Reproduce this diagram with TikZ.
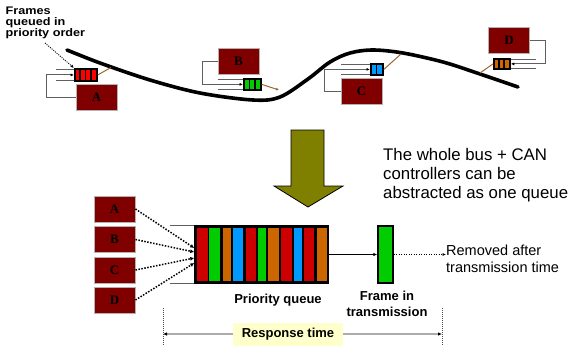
\documentclass[tikz,border=0pt]{standalone}
\usepackage{fontspec}
\setmainfont{Liberation Sans}
\newfontfamily\boxfont{Liberation Serif}
\newfontfamily\widesans{Liberation Sans}[FakeStretch=1.15]
\usetikzlibrary{arrows.meta,calc}

\definecolor{boxred}{HTML}{800000}
\definecolor{qred}{HTML}{CC0000}
\definecolor{brightred}{HTML}{FF0000}
\definecolor{qgreen}{HTML}{00CC00}
\definecolor{qorange}{HTML}{CC6600}
\definecolor{qblue}{HTML}{0099FF}
\definecolor{olive}{HTML}{808000}
\definecolor{tapbrown}{HTML}{996633}
\definecolor{lightyel}{HTML}{FFFFCC}

% fixed baseline spacing in multi-line labels
\lineskiplimit=-20pt

\tikzset{
  ctrl/.style={fill=boxred, draw=gray!60, line width=0.9pt, minimum width=41pt,
    minimum height=26pt, inner sep=0pt, font=\boxfont\bfseries\fontsize{13}{13}\selectfont},
  minq/.style={fill=black, draw=black, line width=0.8pt, inner sep=0pt, anchor=north west},
  rail/.style={draw=gray!75!black, line width=0.9pt},
  feed/.style={draw=gray!75!black, line width=0.9pt,
    -{Latex[length=3.5pt,width=3pt,color=black]}},
  tap/.style={draw=tapbrown, line width=1pt},
  bus/.style={line width=3.6pt, line cap=round},
  dotarrow/.style={line width=1.5pt, dash pattern=on 1.5pt off 1.5pt,
    -{Latex[length=4pt,width=4pt]}},
  thindot/.style={line width=0.9pt, dash pattern=on 1pt off 1.2pt,
    -{Latex[length=3.5pt,width=3pt]}},
  marker/.style={draw=gray!60!black, line width=0.8pt, dash pattern=on 1pt off 1pt},
  lbl/.style={inner sep=0pt, align=left},
}

% small hardware queue: name, x, y (top left), width, height, bars, colour
\newcommand{\miniq}[7]{%
  \node[minq, minimum width=#4pt, minimum height=#5pt] (#1) at (#2,#3) {};
  \pgfmathsetmacro\qbw{(#4-1.5*(#6+1))/#6}
  \foreach \i in {1,...,#6}{
    \fill[#7] ({#2+1.5+(\i-1)*(\qbw+1.5)},{#3+1.5}) rectangle ++(\qbw,#5-3);
  }
}

\begin{document}
\begin{tikzpicture}[x=1pt,y=-1pt]
\useasboundingbox (0,0) rectangle (569,346);

% ---------------- CAN bus with four controllers ----------------
\draw[bus] plot[smooth, tension=0.55] coordinates {
  (67,50) (100,63) (150,80) (200,93) (253,100) (280,97) (308,79) (330,62)
  (350,53) (373,50) (403,53) (443,62) (477,73) (518,87)};

\coordinate (busA) at (111,67.5);
\coordinate (busB) at (279,90);
\coordinate (busC) at (401,54);
\coordinate (busD) at (480,73);

% controller A
\node[ctrl] (A) at (96.5,97) {A};
\miniq{qA}{74}{68}{23}{13}{4}{brightred}
\draw[rail] ([yshift=-1.5pt]qA.north west) -- ++(-18,0);
\draw[rail] ([yshift=1.5pt]qA.south west) -- ++(-18,0);
\draw[feed] (A.west) -- ++(-29,0) |- (qA.west);
\draw[tap] (qA.east) -- (busA);

% controller B
\node[ctrl] (B) at (238.5,61) {B};
\miniq{qB}{243}{78}{18}{12}{3}{qgreen}
\draw[rail] ([yshift=-1.2pt]qB.north west) -- ++(-25,0);
\draw[rail] ([yshift=1.2pt]qB.south west) -- ++(-25,0);
\draw[feed] (B.west) -- ++(-15,0) |- (qB.west);
\draw[tap, -{Latex[length=3pt,width=3pt]}] (qB.east) -- (busB);

% controller C
\node[ctrl] (C) at (361.5,91.5) {C};
\miniq{qC}{370}{63}{13}{12}{2}{qblue}
\draw[rail] ([yshift=-1.2pt]qC.north west) -- ++(-29,0);
\draw[rail] ([yshift=1.2pt]qC.south west) -- ++(-29,0);
\draw[feed] (C.west) -- ++(-16,0) |- (qC.west);
\draw[tap] (qC.east) -- (busC);

% controller D
\node[ctrl] (D) at (509,40.5) {D};
\miniq{qD}{493}{58}{17}{11}{3}{qorange}
\draw[rail] ([yshift=-1.2pt]qD.north east) -- ++(25,0);
\draw[rail] ([yshift=1.2pt]qD.south east) -- ++(25,0);
\draw[feed] (D.east) -- ++(15,0) |- (qD.east);
\draw[tap] (qD.west) -- (busD);

% caption of the hardware queues
\node[lbl, anchor=north west,
  font=\widesans\bfseries\fontsize{11}{11}\selectfont] (fq) at (5.5,7.2)
  {Frames\\queued in\\priority order};
\coordinate (fqtail) at (45,43);
\draw[thindot] (fqtail) -- (qA.north west);

% ---------------- abstraction arrow ----------------
\draw[fill=olive, draw=black, line width=0.8pt]
  (291,130) -- (324,130) -- (324,186) -- (343,186) -- (308,207)
  -- (274,186) -- (291,186) -- cycle;

\node[lbl, anchor=north west,
  font=\fontsize{16.8}{19}\selectfont] (note) at (383,148.5)
  {The whole bus + CAN\\controllers can be\\abstracted as one queue};

% ---------------- equivalent single queue ----------------
\node[ctrl] (A2) at (114.5,209) {A};
\node[ctrl] (B2) at (114.5,239.5) {B};
\node[ctrl] (C2) at (114.5,270) {C};
\node[ctrl] (D2) at (114.5,300) {D};

\node[fill=black, draw=black, line width=1.5pt, minimum width=133pt,
  minimum height=57pt, inner sep=0pt] (Q) at (261.5,254.5) {};
\foreach \xa/\xb/\c in {196.7/207.7/qred, 209.3/220/qgreen, 222.7/230.7/qorange,
    232.7/243.3/qblue, 245.7/256/qred, 258.3/266/qgreen, 268.3/279.3/qorange,
    281/291.7/qred, 293.7/301.7/qblue, 303.7/314.3/qred, 316.7/327.3/qorange}
  \fill[\c] (\xa,228) rectangle (\xb,281);
\draw[rail, line width=1.3pt] (Q.north west) -- ++(-24,0);
\draw[rail, line width=1.3pt] (Q.south west) -- ++(-24,0);

\draw[dotarrow] (A2.east) -- ($(Q.west)+(0,-6.5)$);
\draw[dotarrow] (B2.east) -- ($(Q.west)+(0,-2.5)$);
\draw[dotarrow] (C2.east) -- ($(Q.west)+(0,3.5)$);
\draw[dotarrow] (D2.east) -- ($(Q.west)+(0,8.5)$);

\node[fill=qgreen, draw=black, line width=1.5pt, minimum width=15pt,
  minimum height=57pt, inner sep=0pt] (F) at (385.5,254.5) {};
\draw[line width=1pt, -{Latex[length=4pt,width=3.5pt]}] (Q.east) -- (F.west);

\node[lbl, anchor=west, font=\fontsize{14.5}{17}\selectfont] (rm) at (446,258.5)
  {Removed after\\transmission time};
\draw[line width=1pt, dash pattern=on 1pt off 1.5pt,
  -{Latex[length=3.5pt,width=3pt]}] (F.east) -- (rm.west |- F.east);

\node[inner sep=0pt, font=\bfseries\fontsize{13}{13}\selectfont, anchor=base]
  (pq) at (278,303) {Priority queue};
\node[inner sep=0pt, align=center, anchor=north,
  font=\bfseries\fontsize{13}{16}\selectfont] (ft) at (387,290.5)
  {Frame in\\transmission};

% ---------------- response time ----------------
\coordinate (rL) at (163,308);
\coordinate (rR) at (442,308);
\draw[marker] (rL) -- (163,346);
\draw[marker] (rR) -- (442,346);
\draw[draw=gray!65, line width=1.3pt,
  {Latex[length=4pt,width=3.5pt,color=black]}-{Latex[length=4pt,width=3.5pt,color=black]}]
  (rL |- 0,334) -- (rR |- 0,334);
\node[fill=lightyel, minimum width=110pt, minimum height=23pt, inner sep=0pt,
  font=\bfseries\fontsize{13}{13}\selectfont] (rt) at (288,334.5) {Response time};
\end{tikzpicture}
\end{document}
